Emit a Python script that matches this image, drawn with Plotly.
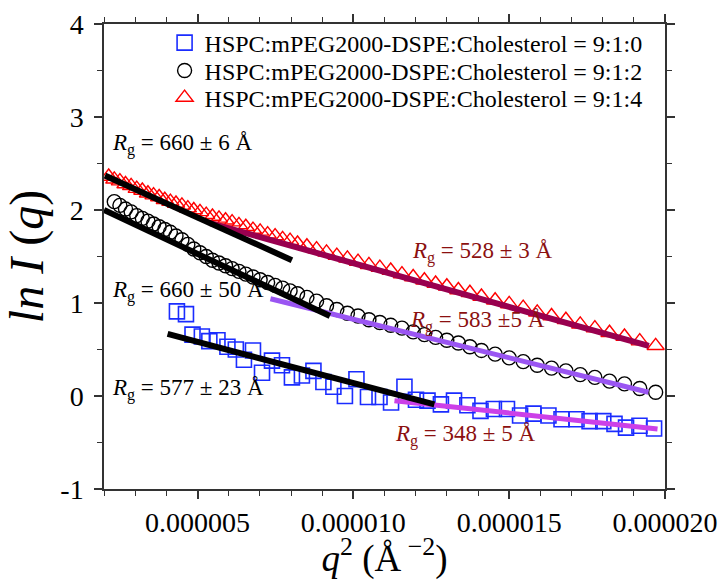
import plotly.graph_objects as go

U = 1e-6  # q^2 values below are given in units of 1e-6 A^-2

# q^2 grid shared by the 9:1:4 and 9:1:2 series
q2_grid = [2.15, 2.33, 2.51, 2.69, 2.87, 3.05, 3.23, 3.41, 3.59, 3.77, 3.95, 4.13, 4.31, 4.50, 4.69,
           4.88, 5.08, 5.28, 5.48, 5.69, 5.90, 6.11, 6.33, 6.55, 6.78, 7.01, 7.25, 7.49, 7.73, 7.97, 8.21,
           8.51, 8.82, 9.14, 9.47, 9.81, 10.15, 10.50, 10.85, 11.20, 11.56, 11.92, 12.28, 12.64, 13.00,
           13.37, 13.74, 14.11,
           14.55, 15.00, 15.45, 15.90, 16.36, 16.82, 17.28, 17.75, 18.22, 18.70, 19.19, 19.70]

lnI_914 = [2.36, 2.33, 2.31, 2.28, 2.26, 2.23, 2.21, 2.18, 2.16, 2.14, 2.11, 2.09, 2.07, 2.05, 2.02,
           2.00, 1.98, 1.95, 1.93, 1.91, 1.89, 1.87, 1.84, 1.82, 1.79, 1.77, 1.74, 1.72, 1.69, 1.67, 1.64,
           1.61, 1.58, 1.545, 1.51, 1.48, 1.445, 1.41, 1.38, 1.35, 1.31, 1.28, 1.245, 1.21, 1.18,
           1.14, 1.11, 1.07,
           1.03, 0.99, 0.95, 0.90, 0.86, 0.82, 0.77, 0.73, 0.68, 0.64, 0.59, 0.54]

q2_912 = q2_grid[1:]
lnI_912 = [2.09, 2.05, 2.01, 1.98, 1.94, 1.91, 1.88, 1.85, 1.82, 1.79, 1.76, 1.72, 1.68, 1.63,
           1.58, 1.54, 1.50, 1.46, 1.43, 1.40, 1.37, 1.34, 1.31, 1.28, 1.25, 1.22, 1.19, 1.16, 1.13, 1.10,
           1.06, 1.02, 0.97, 0.93, 0.89, 0.86, 0.82, 0.79, 0.76, 0.73, 0.69, 0.66, 0.63, 0.60,
           0.57, 0.53, 0.49,
           0.45, 0.41, 0.37, 0.33, 0.30, 0.27, 0.23, 0.20, 0.16, 0.13, 0.08, 0.04]

q2_910 = [4.34, 4.63, 4.84, 5.14, 5.38, 5.64, 5.96, 6.23, 6.49, 6.78, 7.07, 7.39, 7.71, 8.03, 8.35,
          8.72, 9.04, 9.36, 9.73, 10.10, 10.47, 10.84, 11.21, 11.64, 12.01, 12.38, 12.81, 13.23,
          13.66, 14.08, 14.51, 14.93, 15.35, 15.78, 16.26, 16.68, 17.16, 17.58, 18.02, 18.38, 18.75,
          19.18, 19.65]
lnI_910 = [0.91, 0.88, 0.66, 0.64, 0.59, 0.60, 0.53, 0.50, 0.39, 0.49, 0.25, 0.38, 0.33, 0.20, 0.22,
           0.27, 0.15, 0.10, 0.00, 0.18, -0.01, -0.01, -0.07, 0.10, -0.04, -0.05, -0.09, -0.05,
           -0.10, -0.16, -0.14, -0.14, -0.21, -0.19, -0.21, -0.25, -0.25, -0.27, -0.27, -0.30, -0.34,
           -0.32, -0.35]

# Guinier fit lines (end points)
fit_914_lo_x, fit_914_lo_y = [2.03, 8.03], [2.37, 1.46]
fit_914_hi_x, fit_914_hi_y = [5.40, 19.48], [1.86, 0.538]
fit_912_lo_x, fit_912_lo_y = [2.00, 9.25], [2.00, 0.86]
fit_912_hi_x, fit_912_hi_y = [7.34, 19.47], [1.046, 0.04]
fit_910_lo_x, fit_910_lo_y = [4.04, 12.60], [0.667, -0.09]
fit_910_hi_x, fit_910_hi_y = [11.32, 19.76], [-0.05, -0.355]

names = ["HSPC:mPEG2000-DSPE:Cholesterol = 9:1:0",
         "HSPC:mPEG2000-DSPE:Cholesterol = 9:1:2",
         "HSPC:mPEG2000-DSPE:Cholesterol = 9:1:4"]

labels_black = [("660 ± 6", 2.19, 2.70), ("660 ± 50", 2.19, 1.12), ("577 ± 23", 2.19, 0.075)]
labels_red = [("528 ± 3", 11.81, 1.54), ("583 ±5", 11.75, 0.80), ("348 ± 5", 11.27, -0.42)]

FONT = "Liberation Serif, Times New Roman, serif"

def sc(v):
    return [a * U for a in v]

fig = go.Figure()
fig.add_trace(go.Scatter(x=sc(q2_910), y=lnI_910, mode="markers", name=names[0], legend="legend",
                         marker=dict(symbol="square-open", size=15, color="#1a2cff", line=dict(width=1.6))))
fig.add_trace(go.Scatter(x=sc(q2_912), y=lnI_912, mode="markers", name=names[1], legend="legend2",
                         marker=dict(symbol="circle-open", size=14, color="black", line=dict(width=1.4))))
fig.add_trace(go.Scatter(x=sc(q2_grid), y=lnI_914, mode="markers", name=names[2], legend="legend3",
                         marker=dict(symbol="triangle-up-open", size=15, color="#ff0000", line=dict(width=1.4))))

for fx, fy, col, w in [(fit_914_hi_x, fit_914_hi_y, "#99004f", 6),
                       (fit_912_hi_x, fit_912_hi_y, "#9a55f2", 5),
                       (fit_910_hi_x, fit_910_hi_y, "#cc40e8", 5),
                       (fit_914_lo_x, fit_914_lo_y, "black", 6),
                       (fit_912_lo_x, fit_912_lo_y, "black", 6),
                       (fit_910_lo_x, fit_910_lo_y, "black", 6)]:
    fig.add_trace(go.Scatter(x=sc(fx), y=fy, mode="lines", showlegend=False, hoverinfo="skip",
                             line=dict(color=col, width=w)))

for txt, x, y in labels_black:
    fig.add_annotation(x=x * U, y=y, text="<i>R</i><sub>g</sub> = " + txt + " Å", showarrow=False,
                       xanchor="left", yanchor="middle", font=dict(family=FONT, size=23, color="black"))
for txt, x, y in labels_red:
    fig.add_annotation(x=x * U, y=y, text="<i>R</i><sub>g</sub> = " + txt + " Å", showarrow=False,
                       xanchor="left", yanchor="middle", font=dict(family=FONT, size=23, color="#8b1010"))

axis_common = dict(showline=True, linecolor="#333333", linewidth=1.5, mirror="allticks",
                   ticks="outside", ticklen=8, tickwidth=1.5, tickcolor="#333333",
                   showgrid=False, zeroline=False, automargin=False,
                   tickfont=dict(family=FONT, size=28, color="black"))

fig.update_xaxes(range=[2e-6, 2e-5], tick0=0, dtick=5e-6, tickformat=".6f",
                 ticklabeloverflow="allow",
                 minor=dict(ticks="outside", ticklen=5, dtick=1e-6, tickwidth=1.2, tickcolor="#333333"),
                 title=dict(text="<i>q</i><sup>2</sup> (Å<sup> −2</sup>)",
                            font=dict(family=FONT, size=37, color="black"), standoff=12),
                 **axis_common)
fig.update_yaxes(range=[-1, 4], tickvals=[-1, 0, 1, 2, 3, 4], ticktext=["-1", "0", "1", "2", "3", "4"],
                 ticklabelstandoff=5,
                 minor=dict(ticks="outside", ticklen=5, dtick=0.5, tickwidth=1.2, tickcolor="#333333"),
                 title=dict(text="<i>ln</i>&nbsp;<i>I</i>&nbsp;(<i>q</i>)",
                            font=dict(family=FONT, size=48, color="black"), standoff=16),
                 **axis_common)

leg = dict(x=0.108, xanchor="left", yanchor="middle", bgcolor="rgba(0,0,0,0)",
           font=dict(family=FONT, size=24, color="black"))
fig.update_layout(width=721, height=580, margin=dict(l=104, r=56, t=24, b=91, autoexpand=False),
                  plot_bgcolor="white", paper_bgcolor="white",
                  legend=dict(y=0.959, **leg), legend2=dict(y=0.899, **leg), legend3=dict(y=0.841, **leg),
                  showlegend=True)

fig.write_html("out.html", config={"displayModeBar": False},
               post_script="document.body.style.margin='0px';")
